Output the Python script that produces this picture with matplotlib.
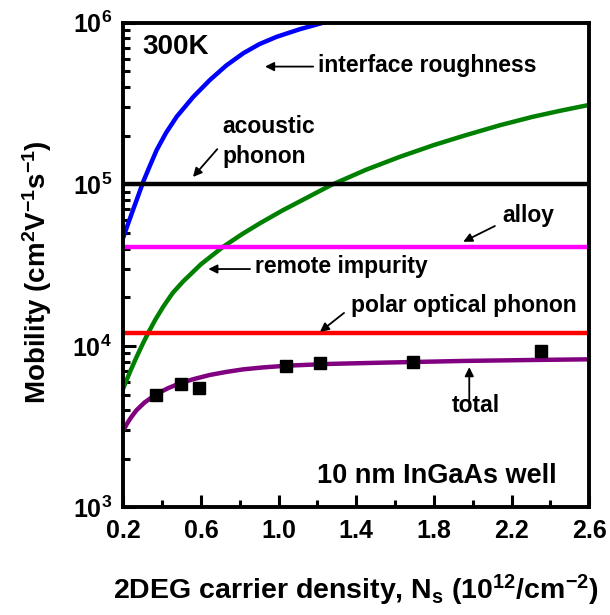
import numpy as np
import matplotlib
matplotlib.use("Agg")
from matplotlib import pyplot as plt
from matplotlib.ticker import FuncFormatter, LogLocator, NullFormatter

plt.rcParams['font.family'] = ['Liberation Sans', 'DejaVu Sans']
plt.rcParams['font.weight'] = 'bold'
plt.rcParams['mathtext.fontset'] = 'custom'
plt.rcParams['mathtext.rm'] = 'Liberation Sans:bold'
plt.rcParams['mathtext.bf'] = 'Liberation Sans:bold'
plt.rcParams['mathtext.it'] = 'Liberation Sans:bold:italic'

# curves (Ns in 1e12 cm^-2, mobility in cm2/Vs)
ir_ns = [0.20, 0.225, 0.25, 0.277, 0.303, 0.338, 0.372, 0.42, 0.475, 0.56,
         0.646, 0.73, 0.818, 0.90, 0.99, 1.11, 1.23, 1.35]
ir_mu = [4.70e4, 5.71e4, 6.93e4, 8.51e4, 1.04e5, 1.31e5, 1.63e5, 2.08e5, 2.62e5, 3.47e5,
         4.42e5, 5.43e5, 6.47e5, 7.36e5, 8.18e5, 9.12e5, 1.0e6, 1.08e6]

ri_ns = [0.20, 0.235, 0.269, 0.30, 0.329, 0.365, 0.406, 0.455, 0.509, 0.60, 0.715, 0.81,
         0.904, 1.02, 1.144, 1.27, 1.45, 1.625, 1.80, 1.968, 2.14, 2.311, 2.45, 2.60]
ri_mu = [5.47e3, 6.92e3, 8.57e3, 1.028e4, 1.208e4, 1.452e4, 1.75e4, 2.13e4, 2.51e4, 3.20e4,
         4.11e4, 4.90e4, 5.74e4, 6.89e4, 8.24e4, 9.89e4, 1.23e5, 1.48e5, 1.75e5, 2.02e5,
         2.32e5, 2.62e5, 2.85e5, 3.10e5]

tot_ns = [0.20, 0.22, 0.24, 0.269, 0.31, 0.372, 0.43, 0.492, 0.56, 0.646, 0.73, 0.818,
          0.92, 1.041, 1.25, 1.522, 1.95, 2.30, 2.60]
tot_mu = [3.00e3, 3.31e3, 3.61e3, 4.01e3, 4.47e3, 5.04e3, 5.47e3, 5.87e3, 6.22e3, 6.61e3,
          6.90e3, 7.16e3, 7.36e3, 7.54e3, 7.73e3, 7.87e3, 8.07e3, 8.18e3, 8.26e3]

acoustic_mu = 1.0e5
alloy_mu = 4.1e4
pop_mu = 1.2e4

exp_ns = [0.368, 0.495, 0.591, 1.04, 1.213, 1.69, 2.354]
exp_mu = [5.0e3, 5.8e3, 5.5e3, 7.54e3, 7.8e3, 8.0e3, 9.35e3]

x_ticks = [0.2, 0.6, 1.0, 1.4, 1.8, 2.2, 2.6]
x_minor = [0.4, 0.8, 1.2, 1.6, 2.0, 2.4]

fig = plt.figure(figsize=(6.1, 6.15), dpi=100)
ax = fig.add_axes([0.2021, 0.1748, 0.7639, 0.7883])

lw = 3.2
ax.plot(ir_ns, ir_mu, color='#0000ff', lw=lw)
ax.plot(ri_ns, ri_mu, color='#008000', lw=lw)
ax.axhline(acoustic_mu, color='black', lw=lw)
ax.axhline(alloy_mu, color='#ff00ff', lw=lw)
ax.axhline(pop_mu, color='#ff0000', lw=lw)
ax.plot(tot_ns, tot_mu, color='#800080', lw=lw)
ax.plot(exp_ns, exp_mu, 's', color='black', ms=8, zorder=5)

ax.set_yscale('log')
ax.set_xlim(0.2, 2.6)
ax.set_ylim(1e3, 1e6)

ax.set_xticks(x_ticks)
ax.set_xticks(x_minor, minor=True)
ax.xaxis.set_major_formatter(FuncFormatter(lambda v, p: '%.1f' % v))
ax.yaxis.set_major_locator(LogLocator(base=10))
ax.yaxis.set_minor_locator(LogLocator(base=10, subs=np.arange(2, 10)))
ax.yaxis.set_minor_formatter(NullFormatter())
ax.yaxis.set_major_formatter(FuncFormatter(lambda v, p: r'$\mathbf{10^{%d}}$' % round(np.log10(v))))

ax.tick_params(which='both', direction='in', top=False, right=False,
               width=2.2, labelsize=18, pad=8)
ax.tick_params(which='major', length=9)
ax.tick_params(which='minor', length=5)
for s in ax.spines.values():
    s.set_linewidth(2.8)

ax.set_xlabel(r'2DEG carrier density, N$_\mathrm{s}$ (10$^{12}$/cm$^{-2}$)',
              fontsize=20.5, fontweight='bold')
ax.set_ylabel(r'Mobility (cm$^2$V$^{-1}$s$^{-1}$)', fontsize=20, fontweight='bold')
ax.xaxis.set_label_coords(0.5, -0.135)
ax.yaxis.set_label_coords(-0.149, 0.485)

fs = 16.5
ax.text(0.300, 6.37e5, '300K', fontsize=20, fontweight='bold', va='baseline')
ax.text(1.199, 1.41e3, '10 nm InGaAs well', fontsize=19.5, fontweight='bold', va='baseline')

arrow = dict(arrowstyle='-|>', color='black', lw=1.3, mutation_scale=13, shrinkA=0, shrinkB=0)

ax.text(1.204, 4.98e5, 'interface roughness', fontsize=fs, fontweight='bold', va='baseline')
ax.annotate('', xy=(0.930, 5.35e5), xytext=(1.178, 5.35e5), arrowprops=arrow)

ax.text(0.712, 2.08e5, 'acoustic', fontsize=fs, fontweight='bold', va='baseline')
ax.text(0.712, 1.35e5, 'phonon', fontsize=fs, fontweight='bold', va='baseline')
ax.annotate('', xy=(0.559, 1.11e5), xytext=(0.684, 1.65e5), arrowprops=arrow)

ax.text(2.154, 5.87e4, 'alloy', fontsize=fs, fontweight='bold', va='baseline')
ax.annotate('', xy=(1.951, 4.41e4), xytext=(2.114, 5.52e4), arrowprops=arrow)

ax.text(0.878, 2.81e4, 'remote impurity', fontsize=fs, fontweight='bold', va='baseline')
ax.annotate('', xy=(0.638, 2.99e4), xytext=(0.853, 2.99e4), arrowprops=arrow)

ax.text(1.371, 1.63e4, 'polar optical phonon', fontsize=fs, fontweight='bold', va='baseline')
ax.annotate('', xy=(1.213, 1.22e4), xytext=(1.337, 1.60e4), arrowprops=arrow)

ax.text(1.891, 3.92e3, 'total', fontsize=fs, fontweight='bold', va='baseline')
ax.annotate('', xy=(1.982, 7.39e3), xytext=(1.982, 4.62e3), arrowprops=arrow)

fig.savefig('out.png', dpi=100)
